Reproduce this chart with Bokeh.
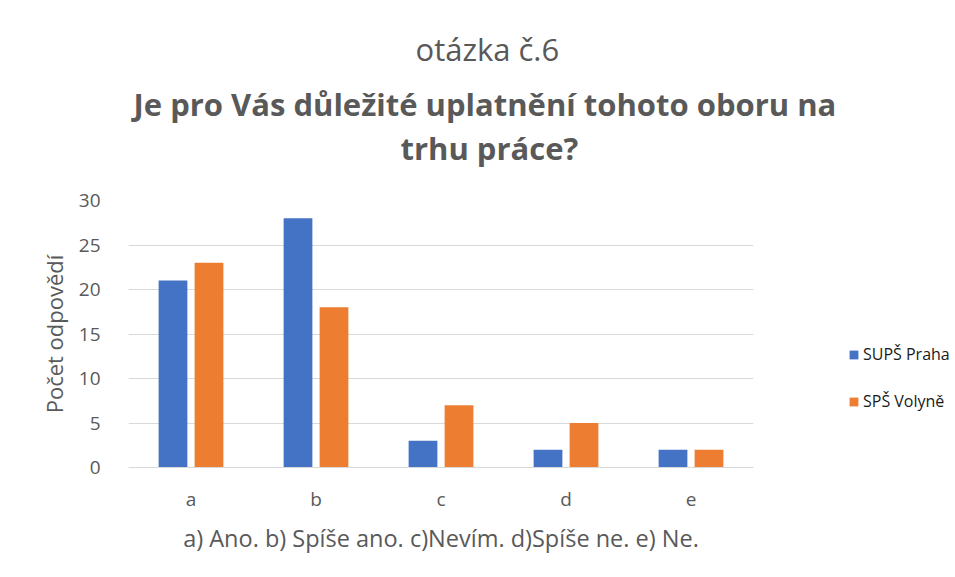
from bokeh.plotting import figure
from bokeh.models import ColumnDataSource, FactorRange, Legend, LegendItem, Title, FixedTicker
from bokeh.transform import dodge
from bokeh.embed import file_html
from bokeh.resources import INLINE

categories = ["a", "b", "c", "d", "e"]
supsp_praha = [21, 28, 3, 2, 2]
sps_volyne = [23, 18, 7, 5, 2]
series_names = ["SUPŠ Praha", "SPŠ Volyně"]
y_ticks = [0, 5, 10, 15, 20, 25, 30]

title_line1 = "otázka č.6"
title_line2 = "Je pro Vás důležité uplatnění tohoto oboru na"
title_line3 = "trhu práce?"
x_label = "a) Ano. b) Spíše ano. c)Nevím. d)Spíše ne. e) Ne."
y_label = "Počet odpovědí"

FONT = "Open Sans"
TXT = "#595959"
BLUE = "#4472C4"
ORANGE = "#ED7D31"
GRID = "#D9D9D9"

src = ColumnDataSource(dict(cat=categories, s1=supsp_praha, s2=sps_volyne))

p = figure(x_range=FactorRange(*categories), y_range=(0, 30),
           frame_width=625, frame_height=267,
           min_border_left=128, min_border_right=202,
           min_border_top=200, min_border_bottom=102,
           output_backend="svg", toolbar_location=None)

r1 = p.vbar(x=dodge("cat", -0.144, range=p.x_range), top="s1", width=0.23,
            source=src, fill_color=BLUE, line_color=None)
r2 = p.vbar(x=dodge("cat", 0.144, range=p.x_range), top="s2", width=0.23,
            source=src, fill_color=ORANGE, line_color=None)

p.outline_line_color = None
p.background_fill_color = "white"
p.border_fill_color = "white"

# axes
p.yaxis.ticker = FixedTicker(ticks=y_ticks)
p.yaxis.axis_line_color = None
p.yaxis.major_tick_line_color = None
p.yaxis.minor_tick_line_color = None
p.yaxis.major_label_text_font = FONT
p.yaxis.major_label_text_font_size = "19px"
p.yaxis.major_label_text_color = TXT
p.yaxis.major_label_standoff = 22
p.yaxis.axis_label = y_label
p.yaxis.axis_label_text_font = FONT
p.yaxis.axis_label_text_font_size = "22px"
p.yaxis.axis_label_text_font_style = "normal"
p.yaxis.axis_label_text_color = TXT
p.yaxis.axis_label_standoff = 7

p.xaxis.axis_line_color = GRID
p.xaxis.axis_line_width = 1
p.xaxis.major_tick_line_color = None
p.xaxis.minor_tick_line_color = None
p.xaxis.major_label_text_font = FONT
p.xaxis.major_label_text_font_size = "19px"
p.xaxis.major_label_text_color = TXT
p.xaxis.major_label_standoff = 12
p.xaxis.axis_label = x_label
p.xaxis.axis_label_text_font = FONT
p.xaxis.axis_label_text_font_size = "23.5px"
p.xaxis.axis_label_text_font_style = "normal"
p.xaxis.axis_label_text_color = TXT
p.xaxis.axis_label_standoff = 7

p.xgrid.grid_line_color = None
p.ygrid.grid_line_color = GRID
p.ygrid.grid_line_width = 1

# titles (added from the frame outward); first one is an empty spacer
p.add_layout(Title(text=" ", standoff=29, text_font_size="1px"), "above")
p.add_layout(Title(text=title_line3, align="left", offset=272, standoff=0,
                   text_font=FONT, text_font_size="31px", text_font_style="bold",
                   text_color=TXT), "above")
p.add_layout(Title(text=title_line2, align="left", offset=5, standoff=0,
                   text_font=FONT, text_font_size="31px", text_font_style="bold",
                   text_color=TXT), "above")
p.add_layout(Title(text=title_line1, align="left", offset=287, standoff=22,
                   text_font=FONT, text_font_size="31px", text_font_style="normal",
                   text_color=TXT), "above")

legend = Legend(items=[LegendItem(label=series_names[0], renderers=[r1]),
                       LegendItem(label=series_names[1], renderers=[r2])],
                location=(95, 55), orientation="vertical")
legend.glyph_width = 11
legend.glyph_height = 11
legend.label_standoff = 4
legend.label_height = 20
legend.spacing = 25
legend.padding = 0
legend.margin = 0
legend.border_line_color = None
legend.background_fill_alpha = 0
legend.label_text_font = FONT
legend.label_text_font_size = "16px"
legend.label_text_color = "#1a1a1a"
p.add_layout(legend, "right")

open("out.html", "w").write(file_html(p, INLINE))
